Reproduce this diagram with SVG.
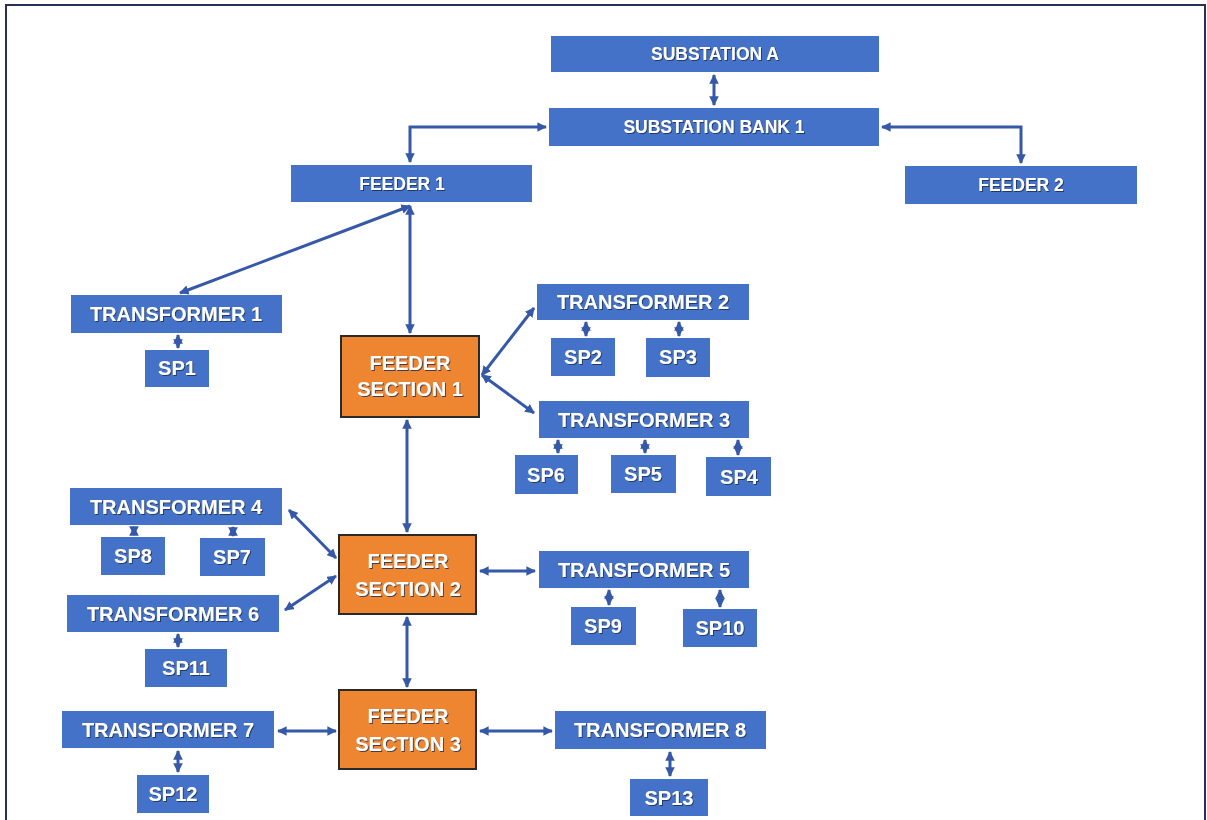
<svg xmlns="http://www.w3.org/2000/svg" width="1207" height="820" viewBox="0 0 1207 820">
<style>
.b{fill:#4472c8;}
.o{fill:#ee8530;stroke:#2a2a2a;stroke-width:2;}
text{font-family:"Liberation Sans",Arial,sans-serif;font-weight:bold;fill:#ffffff;text-anchor:middle;filter:url(#sh);}
.s{font-size:17.5px;}
.t{font-size:20px;}
.f{font-size:20px;}
.c{stroke:#3558a8;stroke-width:3;fill:none;marker-start:url(#ah);marker-end:url(#ah);}
</style>
<defs>
<marker id="ah" viewBox="0 0 10 10" refX="9" refY="5" markerWidth="3.2" markerHeight="3.2" orient="auto-start-reverse" markerUnits="strokeWidth">
<path d="M0,0 L10,5 L0,10 z" fill="#3558a8"/>
</marker>
<filter id="sh" x="-10%" y="-20%" width="120%" height="140%">
<feDropShadow dx="1" dy="1" stdDeviation="0.6" flood-color="#1a2a50" flood-opacity="0.8"/>
</filter>
</defs>
<rect width="1207" height="820" fill="#ffffff"/>
<path d="M6,820 L6,5 L1205,5 L1205,820" fill="none" stroke="#2a2f5a" stroke-width="2"/>

<g id="connectors">
<line class="c" x1="714" y1="75" x2="714" y2="105"/>
<polyline class="c" points="546,127 410,127 410,162"/>
<polyline class="c" points="882,127 1021,127 1021,163"/>
<line class="c" x1="410" y1="206" x2="180" y2="293"/>
<line class="c" x1="410" y1="206" x2="410" y2="333"/>
<line class="c" x1="178" y1="335" x2="178" y2="348"/>
<line class="c" x1="482" y1="375" x2="534" y2="308"/>
<line class="c" x1="482" y1="375" x2="534" y2="413"/>
<line class="c" x1="586" y1="322" x2="586" y2="336"/>
<line class="c" x1="679" y1="322" x2="679" y2="336"/>
<line class="c" x1="558" y1="440" x2="558" y2="453"/>
<line class="c" x1="645" y1="440" x2="645" y2="453"/>
<line class="c" x1="738" y1="440" x2="738" y2="455"/>
<line class="c" x1="407" y1="420" x2="407" y2="532"/>
<line class="c" x1="289" y1="510" x2="336" y2="558"/>
<line class="c" x1="336" y1="576" x2="285" y2="610"/>
<line class="c" x1="134" y1="527" x2="134" y2="535"/>
<line class="c" x1="233" y1="527" x2="233" y2="536"/>
<line class="c" x1="480" y1="571" x2="535" y2="571"/>
<line class="c" x1="609" y1="590" x2="609" y2="605"/>
<line class="c" x1="720" y1="590" x2="720" y2="607"/>
<line class="c" x1="178" y1="634" x2="178" y2="647"/>
<line class="c" x1="407" y1="617" x2="407" y2="687"/>
<line class="c" x1="278" y1="731" x2="336" y2="731"/>
<line class="c" x1="480" y1="731" x2="552" y2="731"/>
<line class="c" x1="178" y1="751" x2="178" y2="772"/>
<line class="c" x1="670" y1="752" x2="670" y2="776"/>
</g>

<g id="substation-a"><rect class="b" x="551" y="36" width="328" height="36"/><text class="s" x="715" y="60">SUBSTATION A</text></g>
<g id="substation-bank-1"><rect class="b" x="549" y="108" width="330" height="38"/><text class="s" x="714" y="133">SUBSTATION BANK 1</text></g>
<g id="feeder-1"><rect class="b" x="291" y="165" width="241" height="37"/><text class="s" x="402" y="190">FEEDER 1</text></g>
<g id="feeder-2"><rect class="b" x="905" y="166" width="232" height="38"/><text class="s" x="1021" y="191">FEEDER 2</text></g>

<g id="transformer-1"><rect class="b" x="71" y="295" width="211" height="38"/><text class="t" x="176" y="321">TRANSFORMER 1</text></g>
<g id="sp1"><rect class="b" x="145" y="350" width="64" height="37"/><text class="t" x="177" y="375">SP1</text></g>

<g id="feeder-section-1"><rect class="o" x="341" y="336" width="138" height="81"/><text class="f" x="410" y="370">FEEDER</text><text class="f" x="410" y="396">SECTION 1</text></g>

<g id="transformer-2"><rect class="b" x="537" y="284" width="212" height="36"/><text class="t" x="643" y="309">TRANSFORMER 2</text></g>
<g id="sp2"><rect class="b" x="551" y="338" width="64" height="38"/><text class="t" x="583" y="364">SP2</text></g>
<g id="sp3"><rect class="b" x="646" y="338" width="64" height="39"/><text class="t" x="678" y="364">SP3</text></g>

<g id="transformer-3"><rect class="b" x="539" y="401" width="210" height="37"/><text class="t" x="644" y="427">TRANSFORMER 3</text></g>
<g id="sp6"><rect class="b" x="515" y="455" width="63" height="39"/><text class="t" x="546" y="482">SP6</text></g>
<g id="sp5"><rect class="b" x="611" y="455" width="65" height="38"/><text class="t" x="643" y="481">SP5</text></g>
<g id="sp4"><rect class="b" x="706" y="457" width="65" height="39"/><text class="t" x="739" y="484">SP4</text></g>

<g id="transformer-4"><rect class="b" x="70" y="488" width="212" height="37"/><text class="t" x="176" y="514">TRANSFORMER 4</text></g>
<g id="sp8"><rect class="b" x="101" y="537" width="64" height="38"/><text class="t" x="133" y="563">SP8</text></g>
<g id="sp7"><rect class="b" x="200" y="538" width="65" height="38"/><text class="t" x="232" y="564">SP7</text></g>

<g id="feeder-section-2"><rect class="o" x="339" y="535" width="137" height="79"/><text class="f" x="408" y="568">FEEDER</text><text class="f" x="408" y="596">SECTION 2</text></g>

<g id="transformer-5"><rect class="b" x="539" y="551" width="210" height="37"/><text class="t" x="644" y="577">TRANSFORMER 5</text></g>
<g id="sp9"><rect class="b" x="571" y="607" width="65" height="38"/><text class="t" x="603" y="633">SP9</text></g>
<g id="sp10"><rect class="b" x="683" y="609" width="74" height="38"/><text class="t" x="720" y="635">SP10</text></g>

<g id="transformer-6"><rect class="b" x="67" y="595" width="212" height="37"/><text class="t" x="173" y="621">TRANSFORMER 6</text></g>
<g id="sp11"><rect class="b" x="145" y="649" width="82" height="38"/><text class="t" x="186" y="675">SP11</text></g>

<g id="feeder-section-3"><rect class="o" x="339" y="690" width="137" height="79"/><text class="f" x="408" y="723">FEEDER</text><text class="f" x="408" y="751">SECTION 3</text></g>

<g id="transformer-7"><rect class="b" x="62" y="711" width="212" height="37"/><text class="t" x="168" y="737">TRANSFORMER 7</text></g>
<g id="sp12"><rect class="b" x="137" y="775" width="72" height="38"/><text class="t" x="173" y="801">SP12</text></g>

<g id="transformer-8"><rect class="b" x="555" y="711" width="211" height="38"/><text class="t" x="660" y="737">TRANSFORMER 8</text></g>
<g id="sp13"><rect class="b" x="630" y="779" width="78" height="37"/><text class="t" x="669" y="805">SP13</text></g>
</svg>
